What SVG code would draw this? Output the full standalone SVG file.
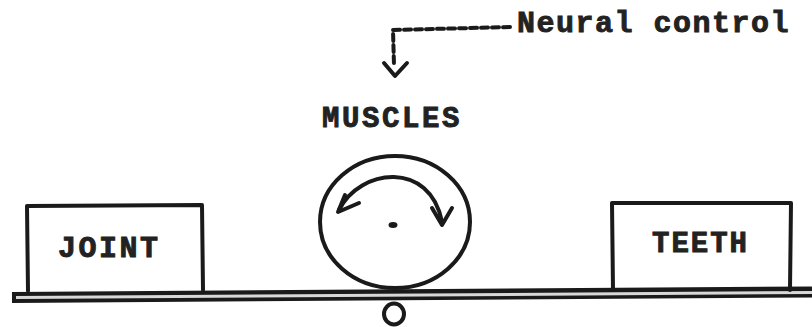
<svg xmlns="http://www.w3.org/2000/svg" width="812" height="327" viewBox="0 0 812 327">
<style>
.ink{fill:none;stroke:#1a1a1a;stroke-width:4;stroke-linecap:round;stroke-linejoin:round}
.lbl{font-family:"Liberation Mono","Courier New",monospace;font-weight:bold;fill:#222;stroke:#222;stroke-width:0.9}
</style>
<rect width="812" height="327" fill="#fff"/>
<g id="beam">
<path d="M12 297.5 L812 292" stroke="#1a1a1a" stroke-width="11" fill="none"/>
<path d="M16 297.5 L812 292.5" stroke="#d8d8d8" stroke-width="3" fill="none"/>
</g>
<g id="joint">
<path class="ink" d="M28 291 L27 206 L202 205 L203 290"/>
<text class="lbl" x="58" y="257" font-size="30" letter-spacing="2.5">JOINT</text>
</g>
<g id="teeth">
<path class="ink" d="M613 290 L612 203 L791 203 L790 290"/>
<text class="lbl" x="652" y="252" font-size="29" letter-spacing="2">TEETH</text>
</g>
<g id="muscles">
<text class="lbl" x="322" y="127" font-size="29" letter-spacing="2.6">MUSCLES</text>
<ellipse class="ink" cx="395" cy="222" rx="75" ry="66" stroke-width="5.5"/>
<path class="ink" d="M339 210 C360 168 430 160 442 222" stroke-width="4.5"/>
<path class="ink" d="M345 195 L338 212 L359 203" stroke-width="4.5"/>
<path class="ink" d="M432 208 L442 225 L452 208" stroke-width="4.5"/>
<ellipse cx="393" cy="225" rx="4.5" ry="3" fill="#1a1a1a"/>
</g>
<g id="pivot">
<ellipse class="ink" cx="394" cy="314" rx="10" ry="10.5" stroke-width="4"/>
</g>
<g id="neural">
<text class="lbl" x="517" y="32" font-size="30" letter-spacing="1.5">Neural control</text>
</g>
<g id="connectors">
<path class="ink" d="M510 27 L393 30 L394 65" stroke-dasharray="7 4" stroke-linecap="butt" stroke-width="4.5"/>
<path class="ink" d="M384 63 L395 76 L407 63" stroke-width="5.5"/>
</g>
</svg>
